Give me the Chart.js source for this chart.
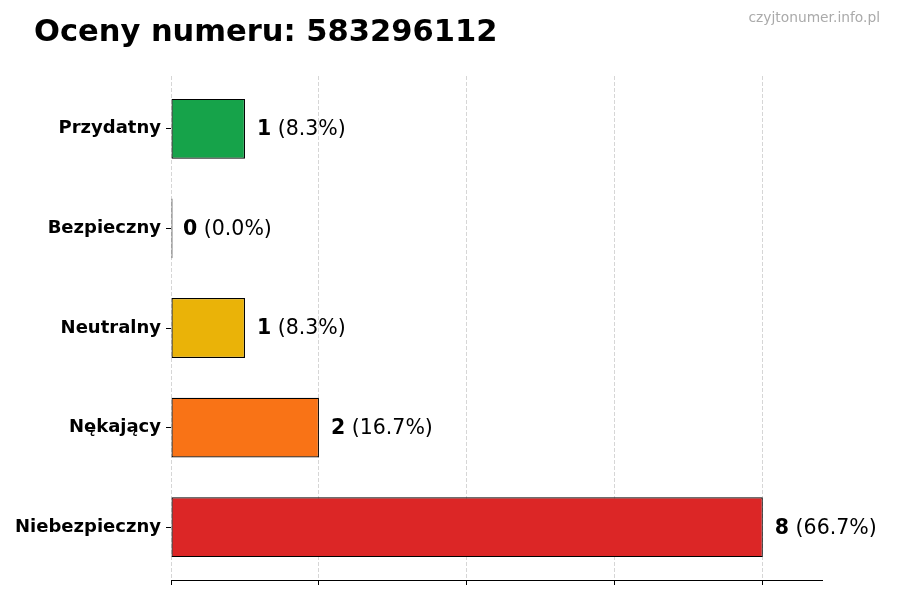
<!DOCTYPE html>
<html>
<head>
<meta charset="utf-8">
<script src="https://cdn.jsdelivr.net/npm/chart.js@4"></script>
<style>
body{margin:0;background:#fff;}
#wrap{position:relative;width:900px;height:600px;}
#title{position:absolute;left:34px;top:12px;font-family:"DejaVu Sans",sans-serif;font-weight:bold;font-size:30.5px;line-height:38px;color:#000;white-space:nowrap;}
#mark{position:absolute;right:20px;top:9px;font-family:"DejaVu Sans",sans-serif;font-size:13.8px;line-height:16px;color:#aaa;}
</style>
</head>
<body>
<div id="wrap">
<canvas id="chart" width="900" height="600"></canvas>
<div id="title"></div>
<div id="mark">czyjtonumer.info.pl</div>
</div>
<script>

const titleText="Oceny numeru: 583296112";

const categories=["Przydatny","Bezpieczny","Neutralny","Nękający","Niebezpieczny"];
const counts=[1,0,1,2,8];
const colors=["#16a34a","#3b82f6","#eab308","#f97316","#dc2626"];
const xTicks=[0,2,4,6,8];

const total=counts.reduce((a,b)=>a+b,0);

document.getElementById("title").textContent=titleText;

// value + percent label next to each bar
const barLabels={
id:"barLabels",
afterDatasetsDraw(chart){
const ctx=chart.ctx;
const meta=chart.getDatasetMeta(0);
ctx.save();
ctx.textBaseline="middle";
ctx.fillStyle="#000";
meta.data.forEach((bar,i)=>{
const v=counts[i];
const pct=" ("+(v/total*100).toFixed(1)+"%)";
let x=chart.scales.x.getPixelForValue(v)+12;
ctx.font="bold 20.5px 'DejaVu Sans'";
ctx.fillText(String(v),x,bar.y+1);
x+=ctx.measureText(String(v)).width;
ctx.font="20.5px 'DejaVu Sans'";
ctx.fillText(pct,x,bar.y+1);
});
ctx.restore();
}
};

new Chart(document.getElementById("chart"),{
type:"bar",
data:{
datasets:[{
data:counts.map((v,i)=>({x:v,y:i})),
backgroundColor:colors,
borderColor:"#000",
borderWidth:1.2,
borderSkipped:false,
minBarLength:1.5,
categoryPercentage:1,
barPercentage:0.6
}]
},
options:{
indexAxis:"y",
responsive:false,
animation:false,
layout:{padding:{left:0,right:78,top:76,bottom:0}},
plugins:{
legend:{display:false},
tooltip:{enabled:false},
title:{display:false}
},
scales:{
x:{
type:"linear",
min:0,
max:8.8,
z:1,
afterBuildTicks(s){s.ticks=xTicks.map(v=>({value:v}));},
ticks:{callback:()=>""},
grid:{
color:"rgba(0,0,0,0.16)",
tickColor:"#000",
tickBorderDash:[],
tickLength:5
},
border:{display:true,color:"#000",width:1,dash:[4,2]},
afterFit(s){s.height=20;}
},
y:{
type:"linear",
reverse:true,
offset:false,
min:-0.53,
max:4.53,
afterBuildTicks(s){s.ticks=categories.map((c,i)=>({value:i}));},
ticks:{
color:"#000",
padding:5,
font:{family:"DejaVu Sans",size:18,weight:"bold"},
callback:(v)=>categories[v]
},
grid:{offset:false,drawOnChartArea:false,tickLength:5,tickColor:"#000"},
border:{display:false},
afterFit(s){s.width=171;}
}
}
},
plugins:[barLabels]
});

</script>
</body>
</html>
